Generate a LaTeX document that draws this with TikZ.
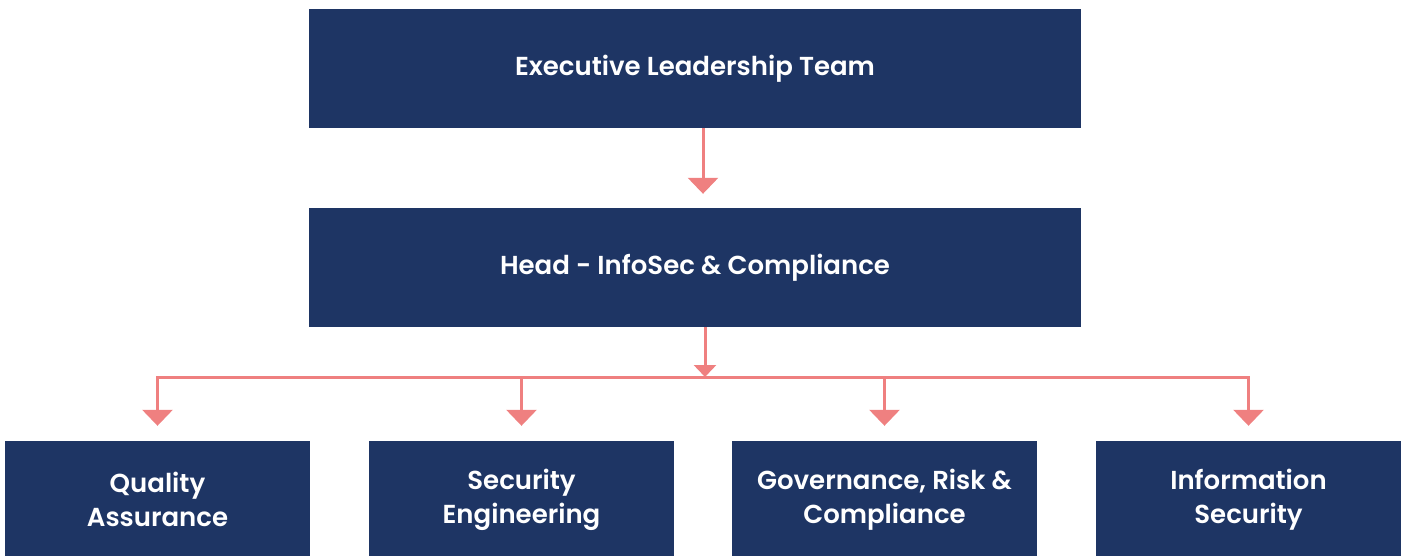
\documentclass[tikz,border=0pt]{standalone}
\usepackage{fontspec}
\setmainfont{Poppins}[BoldFont={Poppins SemiBold}]
\usetikzlibrary{arrows.meta}
\definecolor{navy}{RGB}{30,53,100}
\definecolor{salmon}{RGB}{239,128,128}
\tikzset{
  unit/.style={fill=navy,text=white,font=\fontsize{26}{34}\selectfont\bfseries,align=center,inner sep=0pt},
  link/.style={draw=salmon,line width=3pt},
  bigtip/.style={-{Triangle[width=30pt,length=16pt]}},
  smalltip/.style={-{Triangle[width=22pt,length=12pt]}}
}
\begin{document}
\begin{tikzpicture}[x=1pt,y=-1pt]
\useasboundingbox (0,0) rectangle (1405,556);

\node[unit,minimum width=772pt,minimum height=119pt] (exec) at (695,68.5) {Executive Leadership Team};
\node[unit,minimum width=772pt,minimum height=119pt] (head) at (695,267.5) {Head - InfoSec \& Compliance};

\node[unit,minimum width=305pt,minimum height=117pt] (qa) at (157.5,499.5) {Quality\\Assurance};
\node[unit,minimum width=305pt,minimum height=117pt] (se) at (521.5,499.5) {Security\\Engineering};
\node[unit,minimum width=305pt,minimum height=117pt] (grc) at (884.5,499.5) {Governance, Risk \&\\Compliance};
\node[unit,minimum width=305pt,minimum height=117pt] (is) at (1248.5,499.5) {Information\\Security};

\coordinate (down) at (703,0);
\coordinate (bus) at (705,377);

\draw[link,bigtip,shorten >=14pt] (exec.south -| down) -- (head.north -| down);
\draw[link,smalltip] (head.south -| bus) -- (bus);
\foreach \t in {qa,se,grc,is}
  \draw[link,bigtip,shorten >=15pt] (bus) -| (\t.north);
\end{tikzpicture}
\end{document}
